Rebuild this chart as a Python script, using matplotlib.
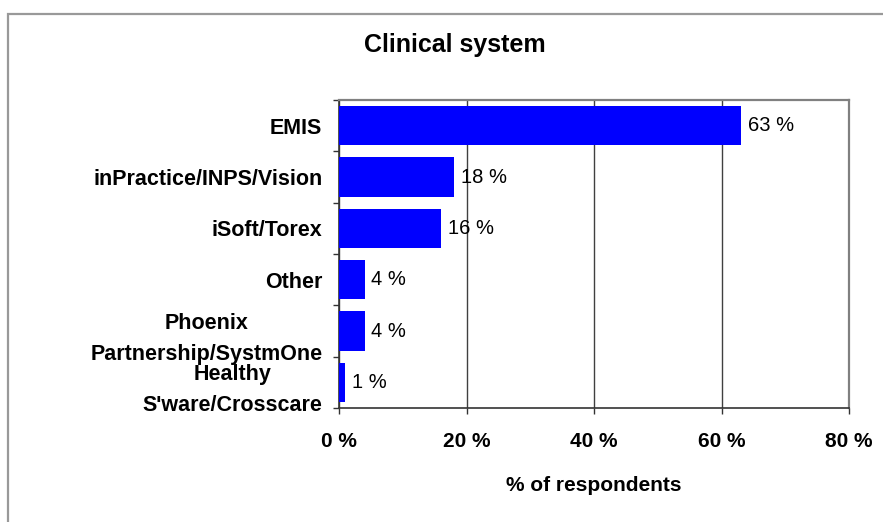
import numpy as np
import matplotlib
matplotlib.use("Agg")
import matplotlib.pyplot as plt
from matplotlib.patches import Rectangle

# data
systems = ["EMIS", "inPractice/INPS/Vision", "iSoft/Torex", "Other",
           "Phoenix\nPartnership/SystmOne", "Healthy\nS'ware/Crosscare"]
percent = [63, 18, 16, 4, 4, 1]
xticks = [0, 20, 40, 60, 80]

plt.rcParams['font.family'] = ['Liberation Sans', 'DejaVu Sans']

fig = plt.figure(figsize=(8.83, 5.22), dpi=100)
ax = fig.add_axes([339 / 883, 1 - 408 / 522, 510 / 883, 308 / 522])

# outer chart border (only left/top visible in the reference)
fig.patches.append(Rectangle((8 / 883, -0.1), 1.2, 1 - 14 / 522 + 0.1,
                             transform=fig.transFigure, fill=False,
                             edgecolor='#999999', linewidth=1.6))

y = np.arange(len(systems))
ax.barh(y, percent, height=0.76, color='#0000FF', zorder=3)

for yi, v in zip(y, percent):
    ax.annotate(f"{v} %", (v, yi), xytext=(5, 0), textcoords='offset points',
                va='center', ha='left', fontsize=14.5, zorder=4)

ax.set_xlim(0, 80)
ax.set_ylim(len(systems) - 0.5, -0.5)

ax.set_xticks(xticks)
ax.set_xticklabels([f"{t} %" for t in xticks], fontsize=15, fontweight='bold')
ax.tick_params(axis='x', direction='out', length=4, width=1, color='#333333', pad=13)

ax.set_yticks(y)
ax.set_yticklabels(systems, fontsize=15.5, fontweight='bold', linespacing=1.65,
                   multialignment='center')
ax.set_yticks(np.arange(len(systems) + 1) - 0.5, minor=True)
ax.tick_params(axis='y', which='major', length=0, pad=12)
ax.tick_params(axis='y', which='minor', direction='out', length=4, width=1, color='#333333')

ax.xaxis.grid(True, color='#404040', linewidth=1, zorder=1)
ax.set_axisbelow(True)

for side in ['top', 'right']:
    ax.spines[side].set_color('#808080')
    ax.spines[side].set_linewidth(1.6)
for side in ['left', 'bottom']:
    ax.spines[side].set_color('#333333')
    ax.spines[side].set_linewidth(1.2)

ax.set_xlabel("% of respondents", fontsize=15, fontweight='bold', labelpad=18)

fig.text(455 / 883, 1 - 45 / 522, "Clinical system", fontsize=18,
         fontweight='bold', ha='center', va='center')

fig.savefig("out.png", dpi=100)
